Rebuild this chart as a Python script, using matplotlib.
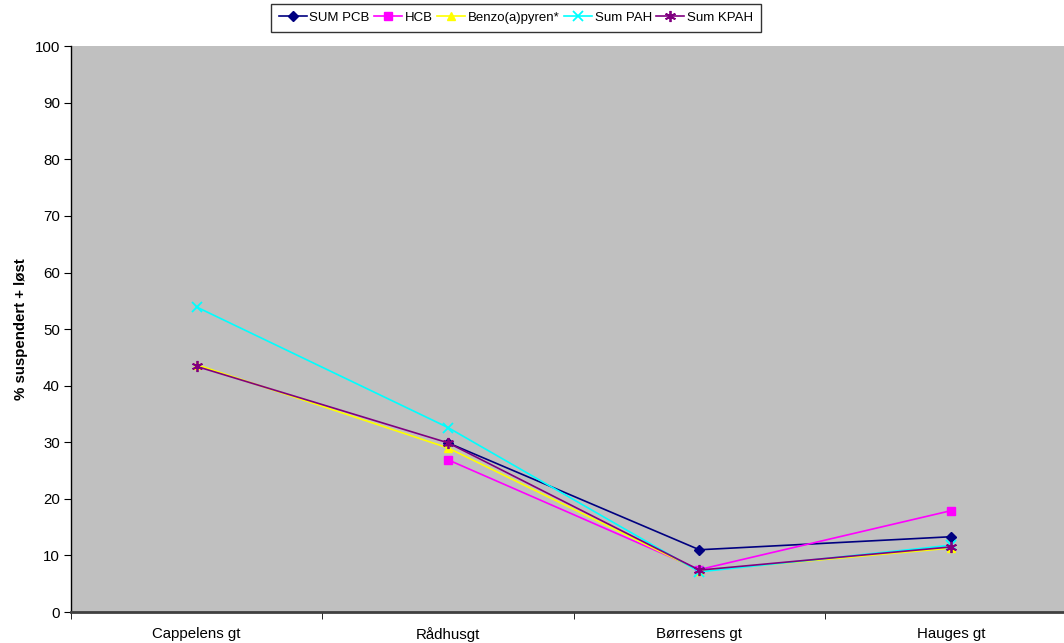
import numpy as np
import matplotlib
matplotlib.use("Agg")
import matplotlib.pyplot as plt

plt.rcParams['font.family'] = ['Liberation Sans', 'DejaVu Sans']

# stations along x axis
stations = ['Cappelens gt', 'Rådhusgt', 'Børresens gt', 'Hauges gt']

# % suspendert + løst per component (nan = no value)
sum_pcb = [np.nan, 29.9, 11.0, 13.3]
hcb = [np.nan, 26.9, 7.5, 17.9]
benzo = [43.7, 29.0, 7.3, 11.3]
sum_pah = [53.9, 32.6, 7.1, 11.8]
sum_kpah = [43.4, 29.9, 7.4, 11.5]

yticks = list(range(0, 101, 10))

fig = plt.figure(figsize=(10.64, 6.43), dpi=100)
ax = fig.add_axes([0.0667, 0.0482, 0.945, 0.880])
ax.set_facecolor('#C0C0C0')

x = np.arange(len(stations))
ax.plot(x, sum_pcb, color='#000080', marker='D', ms=5, lw=1.2, label='SUM PCB')
ax.plot(x, hcb, color='#FF00FF', marker='s', ms=6, lw=1.2, label='HCB')
ax.plot(x, benzo, color='#FFFF00', marker='^', ms=6, lw=1.2, label='Benzo(a)pyren*')
ax.plot(x, sum_pah, color='#00FFFF', marker='x', ms=7, mew=1.3, lw=1.2, label='Sum PAH')
ax.plot(x, sum_kpah, color='#800080', marker=(6, 2, 0), ms=8, mew=1.3, lw=1.2, label='Sum KPAH')

ax.set_xlim(-0.5, len(stations) - 0.5)
ax.set_ylim(0, 100)
ax.set_yticks(yticks)
ax.set_xticks(x)
ax.set_xticklabels(stations, fontsize=10.8)
ax.set_xticks(np.arange(-0.5, len(stations), 1.0), minor=True)
ax.tick_params(axis='x', which='major', length=0, pad=11)
ax.tick_params(axis='x', which='minor', length=5, direction='out', color='black')
ax.tick_params(axis='y', length=5, direction='out', labelsize=10.8, pad=3)
ax.set_ylabel('% suspendert + løst', fontsize=10.8, fontweight='bold', labelpad=5)

for s in ['top', 'right']:
    ax.spines[s].set_visible(False)
ax.spines['left'].set_color('black')
ax.spines['left'].set_linewidth(1)
ax.spines['bottom'].set_color('#404040')
ax.spines['bottom'].set_linewidth(2)

leg = ax.legend(loc='upper center', bbox_to_anchor=(0.4426, 1.087), ncol=5, fontsize=9.5,
                frameon=True, fancybox=False, edgecolor='black', handlelength=2.1,
                handletextpad=0.2, columnspacing=0.35, borderpad=0.62)
leg.get_frame().set_linewidth(1)

fig.savefig('out.png', dpi=100)
